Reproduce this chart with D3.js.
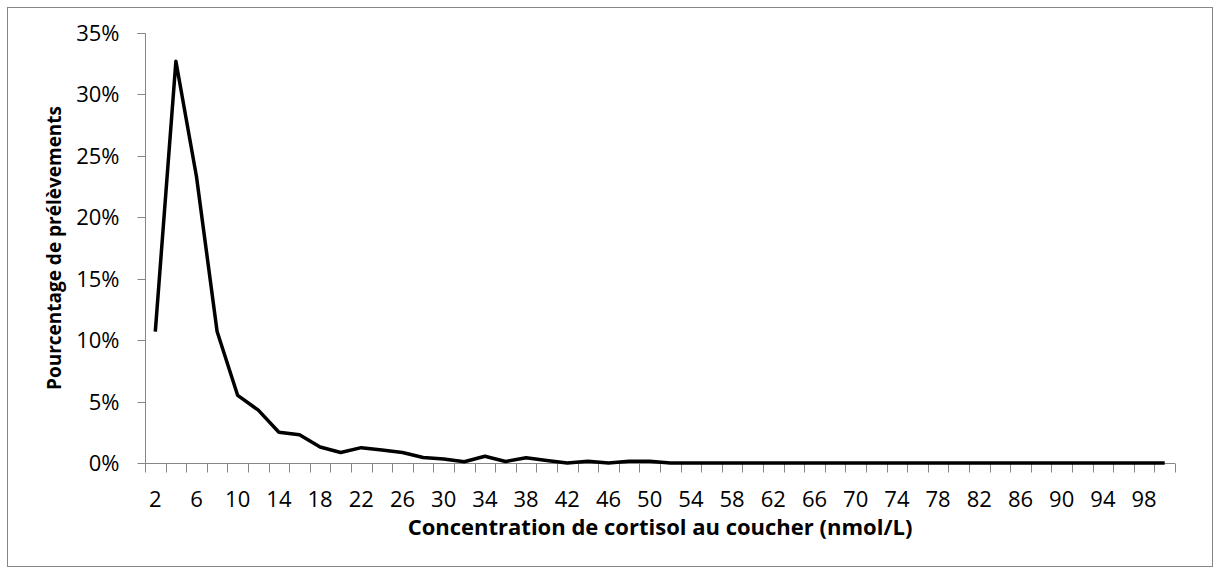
<!DOCTYPE html>
<html>
<head>
<meta charset="utf-8">
<script src="https://cdn.jsdelivr.net/npm/d3@7"></script>
<style>
  html, body { margin: 0; padding: 0; background: #fff; }
  svg { display: block; }
  text { font-family: "Open Sans", "Noto Sans", sans-serif; fill: #000; }
</style>
</head>
<body>
<svg id="chart" width="1217" height="574"></svg>
<script>
// Categories: cortisol concentration bins (nmol/L)
const categories = d3.range(2, 101, 2);
// Percentage of samples for each bin (%)
const percentages = [
  10.7, 32.7, 23.3, 10.7, 5.5, 4.3, 2.5, 2.3, 1.3, 0.85,
  1.25, 1.05, 0.85, 0.45, 0.33, 0.1, 0.55, 0.12, 0.42, 0.2,
  0.0, 0.14, 0.0, 0.15, 0.14, 0.0, 0, 0, 0, 0,
  0, 0, 0, 0, 0, 0, 0, 0, 0, 0,
  0, 0, 0, 0, 0, 0, 0, 0, 0, 0
];
const yTicks = [0, 5, 10, 15, 20, 25, 30, 35];
const xLabel = "Concentration de cortisol au coucher (nmol/L)";
const yLabel = "Pourcentage de prélèvements";

const svg = d3.select("#chart");
const W = 1217, H = 574;
const margin = { left: 145, right: 1217 - 1175, top: 33, bottom: 574 - 463 };

// outer frame
svg.append("rect")
  .attr("x", 7.5).attr("y", 7.5)
  .attr("width", 1212 - 7).attr("height", 566 - 7)
  .attr("fill", "#fff").attr("stroke", "#868686").attr("stroke-width", 1);

const x = d3.scaleBand()
  .domain(categories)
  .range([margin.left, W - margin.right])
  .paddingInner(0).paddingOuter(0);

const y = d3.scaleLinear()
  .domain([0, 35])
  .range([H - margin.bottom, margin.top]);

// Y axis
const yAxis = svg.append("g")
  .attr("transform", `translate(${margin.left + 0.5},0)`)
  .call(d3.axisLeft(y).tickValues(yTicks).tickFormat(d => d + "%").tickSize(8).tickPadding(18));
yAxis.select(".domain").attr("stroke", "#868686").attr("d", `M-8,${y(35) + 0.5}H0V${y(0) + 0.5}`);
yAxis.selectAll(".tick line").attr("stroke", "#868686");
yAxis.selectAll(".tick").attr("transform", d => `translate(0,${Math.round(y(d)) + 0.5})`);
yAxis.selectAll("text").style("font-size", "22px").attr("font-family", null).attr("fill", "#333");

// X axis: ticks at category boundaries
const xg = svg.append("g").attr("transform", `translate(0,${y(0) + 0.5})`);
xg.append("line")
  .attr("x1", margin.left).attr("x2", W - margin.right)
  .attr("stroke", "#868686");
const boundaries = categories.map(c => x(c)).concat([x(categories[categories.length - 1]) + x.bandwidth()]);
xg.selectAll("line.tk").data(boundaries).join("line")
  .attr("class", "tk")
  .attr("x1", d => Math.round(d) + 0.5).attr("x2", d => Math.round(d) + 0.5)
  .attr("y1", 0).attr("y2", 9)
  .attr("stroke", "#868686");
xg.selectAll("text").data(categories.filter((c, i) => i % 2 === 0)).join("text")
  .attr("x", d => x(d) + x.bandwidth() / 2)
  .attr("y", 43)
  .attr("text-anchor", "middle")
  .attr("fill", "#222")
  .style("font-size", "22px")
  .text(d => d);

// Line
const line = d3.line()
  .x((d, i) => x(categories[i]) + x.bandwidth() / 2)
  .y(d => y(d));
svg.append("path")
  .datum(percentages)
  .attr("d", line)
  .attr("fill", "none")
  .attr("stroke", "#000")
  .attr("stroke-width", 3.5)
  .attr("stroke-linejoin", "round");

// Axis titles
svg.append("text")
  .attr("x", (margin.left + W - margin.right) / 2)
  .attr("y", 535)
  .attr("text-anchor", "middle")
  .style("font-size", "22px").style("font-weight", "bold")
  .text(xLabel);

svg.append("text")
  .attr("transform", `translate(61,${(y(0) + y(35)) / 2}) rotate(-90)`)
  .attr("text-anchor", "middle")
  .style("font-size", "19px").style("font-weight", "bold")
  .text(yLabel);
</script>
</body>
</html>
